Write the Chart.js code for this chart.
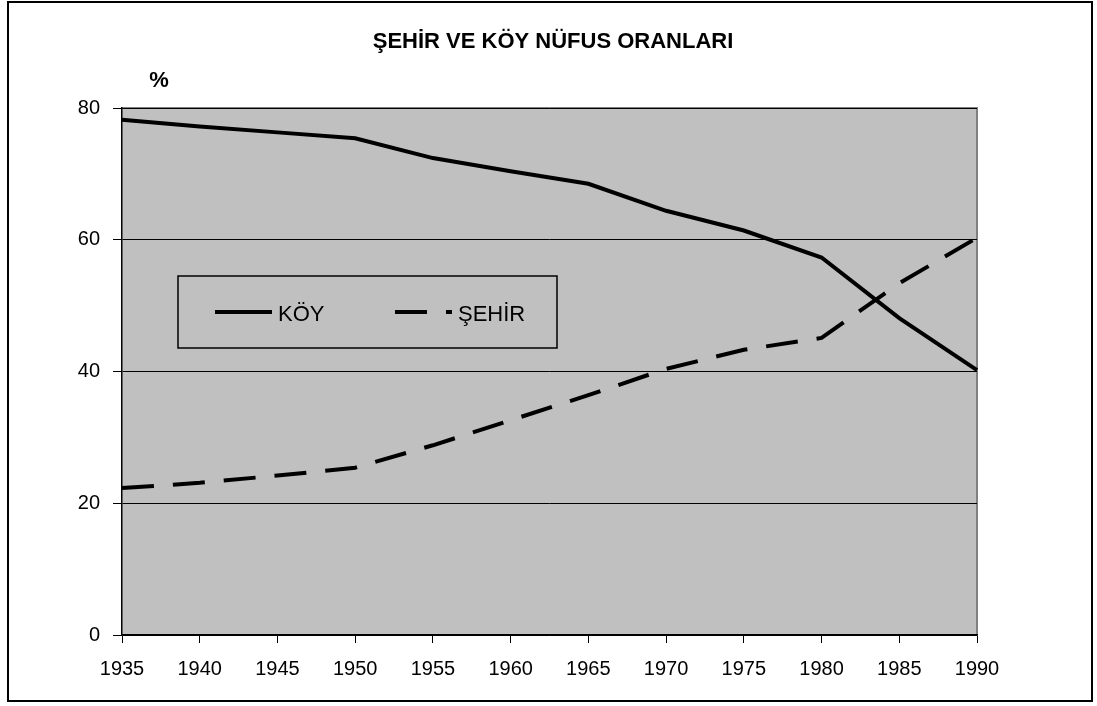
<!DOCTYPE html>
<html>
<head>
<meta charset="utf-8">
<script src="https://cdn.jsdelivr.net/npm/chart.js@4"></script>
<style>
  html, body { margin: 0; padding: 0; background: #fff; }
  #wrap { position: relative; width: 1097px; height: 706px; }
  #frame { position: absolute; left: 7px; top: 1px; width: 1086px; height: 701px; border: 2px solid #000; box-sizing: border-box; pointer-events: none; }
</style>
</head>
<body>
<div id="wrap">
  <canvas id="myChart1" width="1097" height="706"></canvas>
  <div id="frame"></div>
</div>
<script>
var years = ['1935', '1940', '1945', '1950', '1955', '1960', '1965', '1970', '1975', '1980', '1985', '1990'];
var koy = [78.2, 77.2, 76.3, 75.4, 72.4, 70.4, 68.5, 64.4, 61.4, 57.3, 48.1, 40.2];
var sehir = [22.3, 23.1, 24.2, 25.4, 28.8, 32.6, 36.4, 40.4, 43.3, 45.1, 53.4, 60.3];
var yTicks = [0, 20, 40, 60, 80];

var FONT = 'Arial, "Liberation Sans", sans-serif';

// grey plot background, title, "%" label and the legend box
var decor = {
    id: 'decor',
    beforeDraw: function (chart) {
        var c = chart.ctx, a = chart.chartArea;
        c.save();
        c.fillStyle = '#c0c0c0';
        c.fillRect(a.left, a.top, a.right - a.left, a.bottom - a.top);
        c.strokeStyle = '#808080';
        c.lineWidth = 2;
        c.beginPath();
        c.moveTo(a.left, a.top);
        c.lineTo(a.right, a.top);
        c.lineTo(a.right, a.bottom);
        c.stroke();
        c.fillStyle = '#000';
        c.font = 'bold 22px ' + FONT;
        c.textAlign = 'center';
        c.textBaseline = 'alphabetic';
        c.fillText('ŞEHİR VE KÖY NÜFUS ORANLARI', 553, 48);
        c.fillText('%', 159, 87);
        c.restore();
    },
    afterDatasetsDraw: function (chart) {
        var c = chart.ctx, a = chart.chartArea;
        var bx = a.left + 56, by = a.top + 168, bw = 379, bh = 72;
        c.save();
        c.fillStyle = '#c0c0c0';
        c.fillRect(bx, by, bw, bh);
        c.strokeStyle = '#000';
        c.lineWidth = 1.5;
        c.strokeRect(bx, by, bw, bh);
        var ly = by + 36;
        chart.data.datasets.forEach(function (ds, i) {
            var x0 = bx + (i === 0 ? 37 : 217);
            c.strokeStyle = ds.borderColor;
            c.lineWidth = ds.borderWidth;
            c.lineCap = 'butt';
            c.setLineDash(ds.borderDash || []);
            c.beginPath();
            c.moveTo(x0, ly);
            c.lineTo(x0 + 57, ly);
            c.stroke();
            c.setLineDash([]);
            c.fillStyle = '#000';
            c.font = '22px ' + FONT;
            c.textAlign = 'left';
            c.textBaseline = 'alphabetic';
            c.fillText(ds.label, x0 + 63, ly + 9);
        });
        c.restore();
    }
};

var ctx1 = document.getElementById('myChart1').getContext('2d');

var myChart1 = new Chart(ctx1, {
    type: 'line',
    data: {
        labels: years,
        datasets: [{
            label: 'KÖY',
            data: koy,
            borderColor: '#000',
            borderWidth: 4,
            pointRadius: 0,
            tension: 0,
            fill: false
        },
        {
            label: 'ŞEHİR',
            data: sehir,
            borderColor: '#000',
            borderWidth: 4,
            borderDash: [32, 19],
            borderCapStyle: 'butt',
            pointRadius: 0,
            tension: 0,
            fill: false
        }]
    },
    options: {
        responsive: false,
        animation: false,
        layout: {
            padding: { top: 108, right: 120, left: 0, bottom: 0 }
        },
        plugins: {
            legend: { display: false },
            title: { display: false },
            tooltip: { enabled: false }
        },
        scales: {
            x: {
                offset: false,
                afterFit: function (s) { s.height = 71; },
                grid: {
                    drawOnChartArea: false,
                    drawTicks: true,
                    tickLength: 8,
                    color: '#000'
                },
                border: { color: '#000', width: 1.5 },
                ticks: {
                    color: '#000',
                    padding: 14,
                    maxRotation: 0,
                    autoSkip: false,
                    font: { family: FONT, size: 20 }
                }
            },
            y: {
                min: 0,
                max: 80,
                afterFit: function (s) { s.width = 122; },
                afterBuildTicks: function (s) {
                    s.ticks = yTicks.map(function (v) { return { value: v }; });
                },
                grid: {
                    drawTicks: true,
                    tickLength: 9,
                    color: '#000',
                    lineWidth: 1
                },
                border: { color: '#000', width: 1.5 },
                ticks: {
                    color: '#000',
                    padding: 13,
                    font: { family: FONT, size: 20 }
                }
            }
        }
    },
    plugins: [decor]
});
</script>
</body>
</html>
